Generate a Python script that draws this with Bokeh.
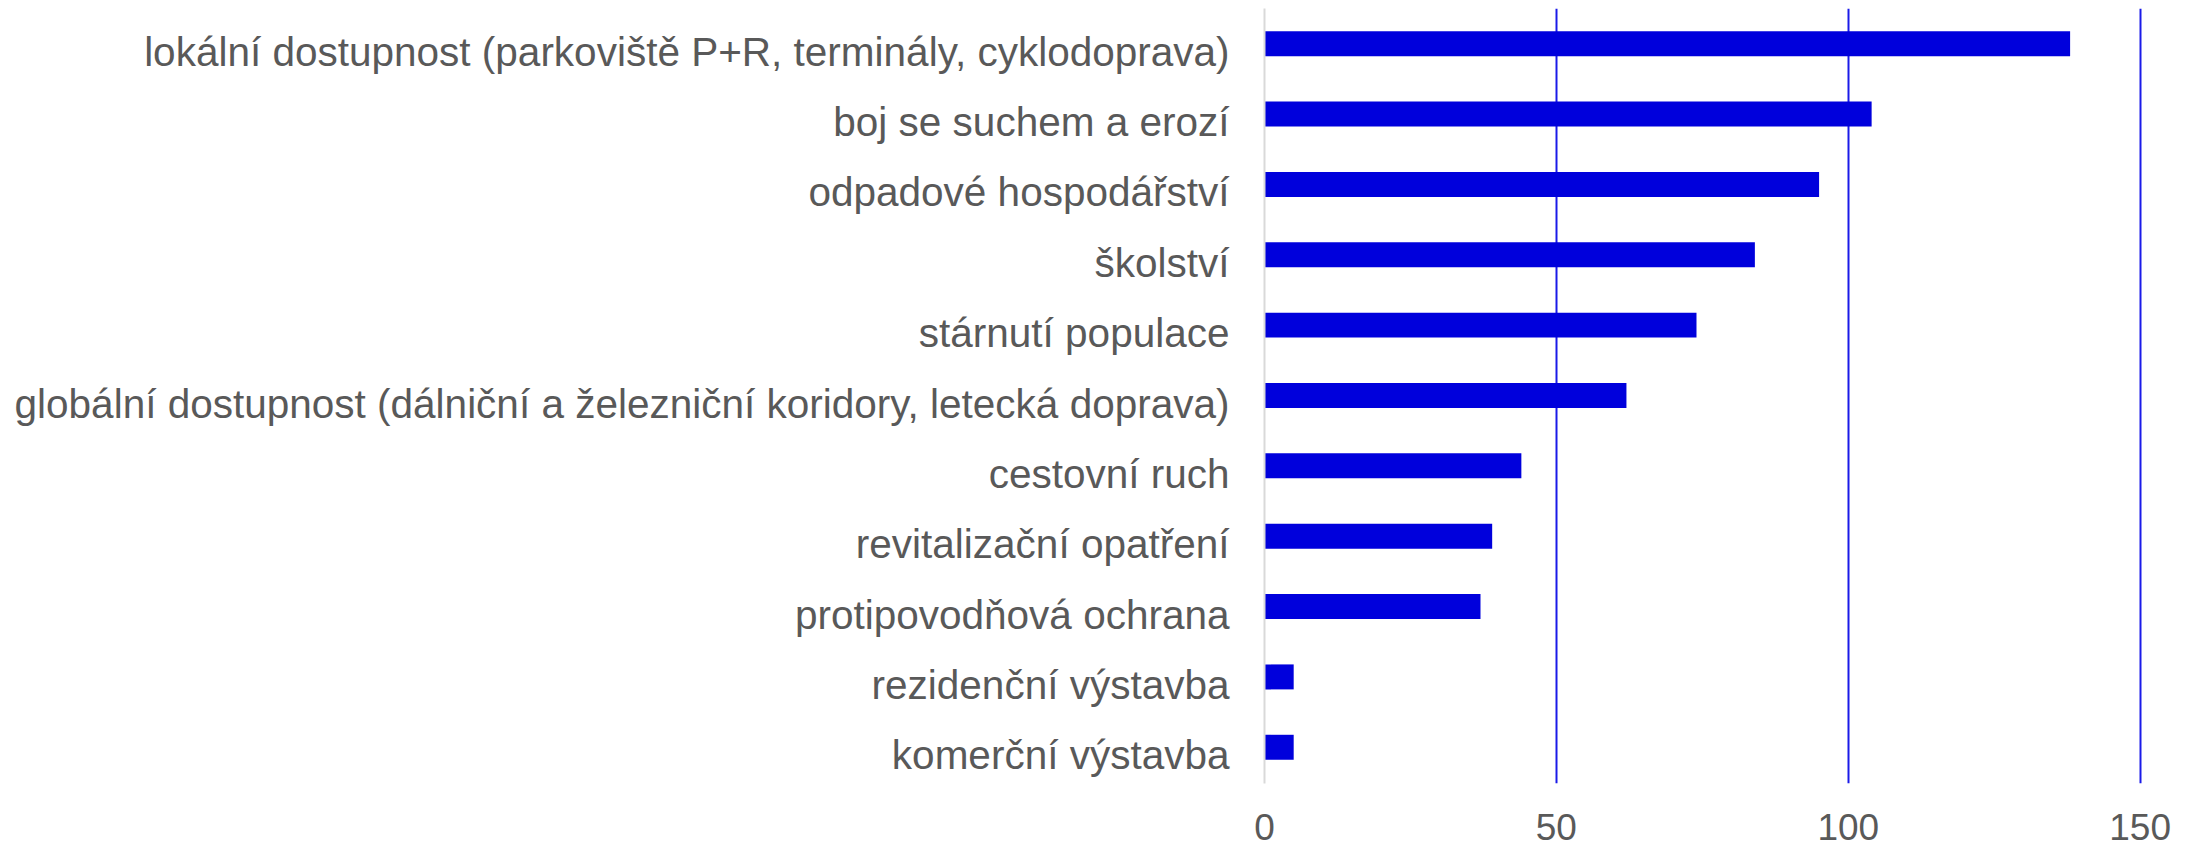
from bokeh.plotting import figure
from bokeh.models import Range1d, FixedTicker, ColumnDataSource
from bokeh.transform import dodge
from bokeh.embed import file_html
from bokeh.resources import INLINE

categories = [
    "lokální dostupnost (parkoviště P+R, terminály, cyklodoprava)",
    "boj se suchem a erozí",
    "odpadové hospodářství",
    "školství",
    "stárnutí populace",
    "globální dostupnost (dálniční a železniční koridory, letecká doprava)",
    "cestovní ruch",
    "revitalizační opatření",
    "protipovodňová ochrana",
    "rezidenční výstavba",
    "komerční výstavba",
]
values = [138, 104, 95, 84, 74, 62, 44, 39, 37, 5, 5]
x_ticks = [0, 50, 100, 150]

n = len(categories)
slots = [n - 1 - i for i in range(n)]  # first category at the top
src = ColumnDataSource(dict(y=slots, v=values, name=categories))

p = figure(
    width=2185, height=848,
    y_range=Range1d(-0.40, n - 1 + 0.615),
    x_range=Range1d(0, 150.4),
    output_backend="svg", toolbar_location=None,
    min_border_left=1264, min_border_right=43, min_border_top=8, min_border_bottom=65,
)
p.outline_line_color = None
p.background_fill_color = "white"
p.border_fill_color = "white"

p.hbar(y=dodge("y", 0.115, range=p.y_range), right="v", left=0, height=0.355,
       fill_color="#0000DC", line_color=None, source=src)

p.ygrid.grid_line_color = None
p.xgrid.ticker = FixedTicker(ticks=[50, 100, 150])
p.xgrid.grid_line_color = "#1A1AE8"
p.xgrid.grid_line_width = 2
p.xgrid.level = "underlay"

p.xaxis.ticker = FixedTicker(ticks=x_ticks)
p.xaxis.axis_line_color = None
p.xaxis.major_tick_line_color = None
p.xaxis.minor_tick_line_color = None
p.xaxis.major_tick_out = 0
p.xaxis.major_tick_in = 0
p.xaxis.major_label_text_font = "Liberation Sans"
p.xaxis.major_label_text_font_size = "37px"
p.xaxis.major_label_text_color = "#595959"
p.xaxis.major_label_standoff = 30

p.yaxis.ticker = FixedTicker(ticks=slots)
p.yaxis.major_label_overrides = {s: c for s, c in zip(slots, categories)}
p.yaxis.axis_line_color = "#D9D9D9"
p.yaxis.axis_line_width = 2
p.yaxis.major_tick_line_color = None
p.yaxis.minor_tick_line_color = None
p.yaxis.major_tick_out = 0
p.yaxis.major_tick_in = 0
p.yaxis.major_label_text_font = "Liberation Sans"
p.yaxis.major_label_text_font_size = "40.5px"
p.yaxis.major_label_text_color = "#595959"
p.yaxis.major_label_standoff = 35

open("out.html", "w").write(file_html(p, INLINE))
